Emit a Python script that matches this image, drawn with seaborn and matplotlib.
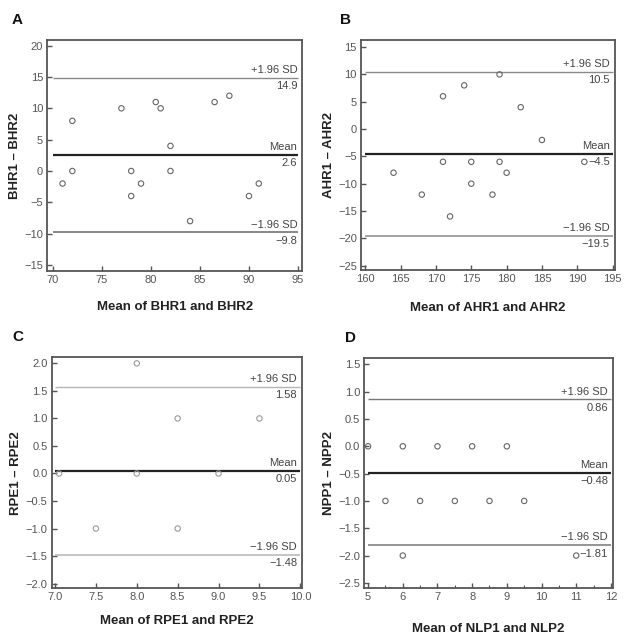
import matplotlib
matplotlib.use("Agg")
import matplotlib.pyplot as plt
import pandas as pd
import seaborn as sns
from matplotlib.ticker import MultipleLocator

sns.set_theme(style="ticks")
plt.rcParams["font.family"] = ["Liberation Sans", "DejaVu Sans"]

# panel A: BHR
bhr_mean = [71, 72, 72, 77, 78, 78, 79, 80.5, 81, 82, 82, 84, 86.5, 88, 90, 91]
bhr_diff = [-2, 8, 0, 10, 0, -4, -2, 11, 10, 4, 0, -8, 11, 12, -4, -2]
bhr_limits = [14.9, 2.6, -9.8]

# panel B: AHR
ahr_mean = [164, 168, 171, 171, 172, 174, 175, 175, 178, 179, 179, 180, 182, 185, 191]
ahr_diff = [-8, -12, 6, -6, -16, 8, -6, -10, -12, 10, -6, -8, 4, -2, -6]
ahr_limits = [10.5, -4.5, -19.5]

# panel C: RPE
rpe_mean = [7.05, 8, 8.5, 9.5, 8, 9, 7.5, 8.5]
rpe_diff = [0, 2, 1, 1, 0, 0, -1, -1]
rpe_limits = [1.58, 0.05, -1.48]

# panel D: NLP / NPP
nlp_mean = [5, 6, 7, 8, 9, 5.5, 6.5, 7.5, 8.5, 9.5, 6, 11]
nlp_diff = [0, 0, 0, 0, 0, -1, -1, -1, -1, -1, -2, -2]
nlp_limits = [0.86, -0.48, -1.81]

panels = [
    dict(letter="A", x=bhr_mean, y=bhr_diff, lim=bhr_limits,
         xlabel="Mean of BHR1 and BHR2", ylabel="BHR1 \u2013 BHR2",
         rect=[0.0756, 0.5759, 0.4069, 0.3615], xlim=(69.45, 95.41), ylim=(-15.96, 20.9),
         xticks=range(70, 96, 5), yticks=range(-15, 21, 5), dec=1,
         ylc=-0.128, xlc=-0.158, lc=("#8a8a8a", "#222222", "#666666"), mc="#666666",
         lpos=(12, 24)),
    dict(letter="B", x=ahr_mean, y=ahr_diff, lim=ahr_limits,
         xlabel="Mean of AHR1 and AHR2", ylabel="AHR1 \u2013 AHR2",
         rect=[0.5767, 0.5775, 0.4053, 0.3599], xlim=(159.4, 195.3), ylim=(-25.8, 16.3),
         xticks=range(160, 196, 5), yticks=range(-25, 16, 5), dec=1,
         ylc=-0.126, xlc=-0.165, lc=("#8a8a8a", "#222222", "#8a8a8a"), mc="#666666",
         lpos=(340, 24)),
    dict(letter="C", x=rpe_mean, y=rpe_diff, lim=rpe_limits,
         xlabel="Mean of RPE1 and RPE2", ylabel="RPE1 \u2013 RPE2",
         rect=[0.0826, 0.0798, 0.3998, 0.3610], xlim=(6.96, 10.02), ylim=(-2.08, 2.11),
         xticks=[7.0, 7.5, 8.0, 8.5, 9.0, 9.5, 10.0],
         yticks=[-2.0, -1.5, -1.0, -0.5, 0.0, 0.5, 1.0, 1.5, 2.0], dec=2,
         ylc=-0.142, xlc=-0.145, lc=("#b5b5b5", "#222222", "#b5b5b5"), mc="#9a9a9a",
         lpos=(12, 341)),
    dict(letter="D", x=nlp_mean, y=nlp_diff, lim=nlp_limits,
         xlabel="Mean of NLP1 and NLP2", ylabel="NPP1 \u2013 NPP2",
         rect=[0.5819, 0.0793, 0.3973, 0.3599], xlim=(4.89, 12.06), ylim=(-2.6, 1.61),
         xticks=range(5, 13), yticks=[-2.5, -2.0, -1.5, -1.0, -0.5, 0.0, 0.5, 1.0, 1.5],
         dec=2, ylc=-0.142, xlc=-0.175, lc=("#777777", "#222222", "#777777"),
         mc="#666666", lpos=(345, 342)),
]


def signed(val, dec):
    return f"{val:.{dec}f}".replace("-", "\u2212")


fig = plt.figure(figsize=(6.26, 6.39), dpi=100)

for p in panels:
    ax = fig.add_axes(p["rect"])
    df = pd.DataFrame({"mean": p["x"], "diff": p["y"]})
    sns.scatterplot(data=df, x="mean", y="diff", ax=ax, marker="o", s=15,
                    facecolor="none", edgecolor=p["mc"], linewidth=0.8, zorder=3)

    xt = list(p["xticks"])
    upper, mean, lower = p["lim"]
    ax.hlines(upper, xt[0], xt[-1], color=p["lc"][0], lw=1.0, zorder=2)
    ax.hlines(mean, xt[0], xt[-1], color=p["lc"][1], lw=1.6, zorder=2)
    ax.hlines(lower, xt[0], xt[-1], color=p["lc"][2], lw=1.1, zorder=2)

    for name, val in [("+1.96 SD", upper), ("Mean", mean), ("\u22121.96 SD", lower)]:
        ax.annotate(name, xy=(1, val), xycoords=("axes fraction", "data"),
                    xytext=(-3.5, 2), textcoords="offset points",
                    ha="right", va="bottom", fontsize=8, color="#444444")
        ax.annotate(signed(val, p["dec"]), xy=(1, val), xycoords=("axes fraction", "data"),
                    xytext=(-3.5, -2.5), textcoords="offset points",
                    ha="right", va="top", fontsize=8, color="#444444")

    ax.set_xlim(*p["xlim"])
    ax.set_ylim(*p["ylim"])
    ax.set_xticks(xt)
    ax.set_yticks(list(p["yticks"]))
    if p["letter"] == "C":
        ax.set_xticklabels([f"{v:.1f}" for v in xt])
    if p["letter"] in ("C", "D"):
        ax.set_yticklabels([signed(v, 1) for v in p["yticks"]])
    if p["letter"] == "D":
        ax.xaxis.set_minor_locator(MultipleLocator(0.5))
        ax.tick_params(axis="x", which="minor", direction="in", length=2.2,
                       width=0.8, color="#555555")

    ax.tick_params(which="major", direction="in", length=3.8, width=1.0,
                   color="#555555", labelsize=8, labelcolor="#555555", pad=3)
    for sp in ax.spines.values():
        sp.set_visible(True)
        sp.set_color("#555555")
        sp.set_linewidth(1.3)

    ax.set_xlabel(p["xlabel"], fontsize=9.5, fontweight="bold", color="#222222", va="center")
    ax.set_ylabel(p["ylabel"], fontsize=9.5, fontweight="bold", color="#222222", va="center")
    ax.xaxis.set_label_coords(0.5, p["xlc"])
    ax.yaxis.set_label_coords(p["ylc"], 0.5)

    fig.text(p["lpos"][0] / 626, 1 - p["lpos"][1] / 639, p["letter"],
             fontsize=11, fontweight="bold", color="#111111", va="baseline")

fig.savefig("out.png", dpi=100)
